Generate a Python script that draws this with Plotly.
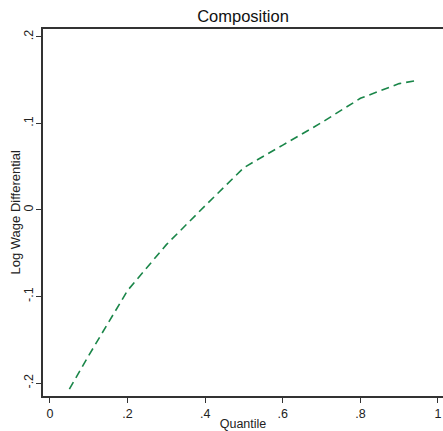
import plotly.graph_objects as go

quantiles = [0.05, 0.1, 0.2, 0.3, 0.4, 0.5, 0.6, 0.7, 0.8, 0.9, 0.95]
log_wage_diff = [-0.207, -0.168, -0.093, -0.040, 0.005, 0.049, 0.075, 0.101, 0.129, 0.146, 0.150]

x_ticks = [0, 0.2, 0.4, 0.6, 0.8, 1]
x_tick_labels = ["0", ".2", ".4", ".6", ".8", "1"]
y_ticks = [-0.2, -0.1, 0, 0.1, 0.2]
y_tick_labels = ["-.2", "-.1", "0", ".1", ".2"]

FONT = "Liberation Sans, Arial, sans-serif"

fig = go.Figure()
fig.add_trace(go.Scatter(
    x=quantiles, y=log_wage_diff, mode="lines",
    line=dict(color="#1a8649", width=1.6, dash="8px,5px"),
    showlegend=False, hoverinfo="skip",
))

axis_font = dict(family=FONT, size=12.5, color="#222")
fig.update_layout(
    width=443, height=431,
    margin=dict(l=43, r=0, t=29, b=31),
    paper_bgcolor="white", plot_bgcolor="white",
    title=dict(text="Composition", x=0.5, xref="paper", y=0.963, yref="container",
               xanchor="center", yanchor="middle",
               font=dict(family=FONT, size=16.5, color="#111")),
    xaxis=dict(
        range=[-0.018, 1.0129], tickvals=x_ticks, ticktext=x_tick_labels,
        showgrid=False, zeroline=False, showline=True, linecolor="#333", linewidth=1.5,
        mirror=True, ticks="outside", ticklen=5, tickcolor="#333", tickwidth=1,
        tickfont=axis_font,
        title=dict(text="Quantile", font=dict(family=FONT, size=12.5, color="#222"), standoff=1),
    ),
    yaxis=dict(
        range=[-0.2149, 0.2091], tickvals=y_ticks, ticktext=y_tick_labels,
        showgrid=False, zeroline=False, showline=True, linecolor="#333", linewidth=1.5,
        mirror=False, ticks="outside", ticklen=5, tickcolor="#333", tickwidth=1,
        tickangle=-90, tickfont=axis_font, ticklabelstandoff=-2,
    ),
    annotations=[dict(
        text="Log Wage Differential", textangle=-90,
        x=(15 - 43) / 400, xref="paper", y=0.5, yref="paper",
        xanchor="center", yanchor="middle", showarrow=False,
        font=dict(family=FONT, size=13, color="#222"),
    )],
)

fig.write_html("out.html")
